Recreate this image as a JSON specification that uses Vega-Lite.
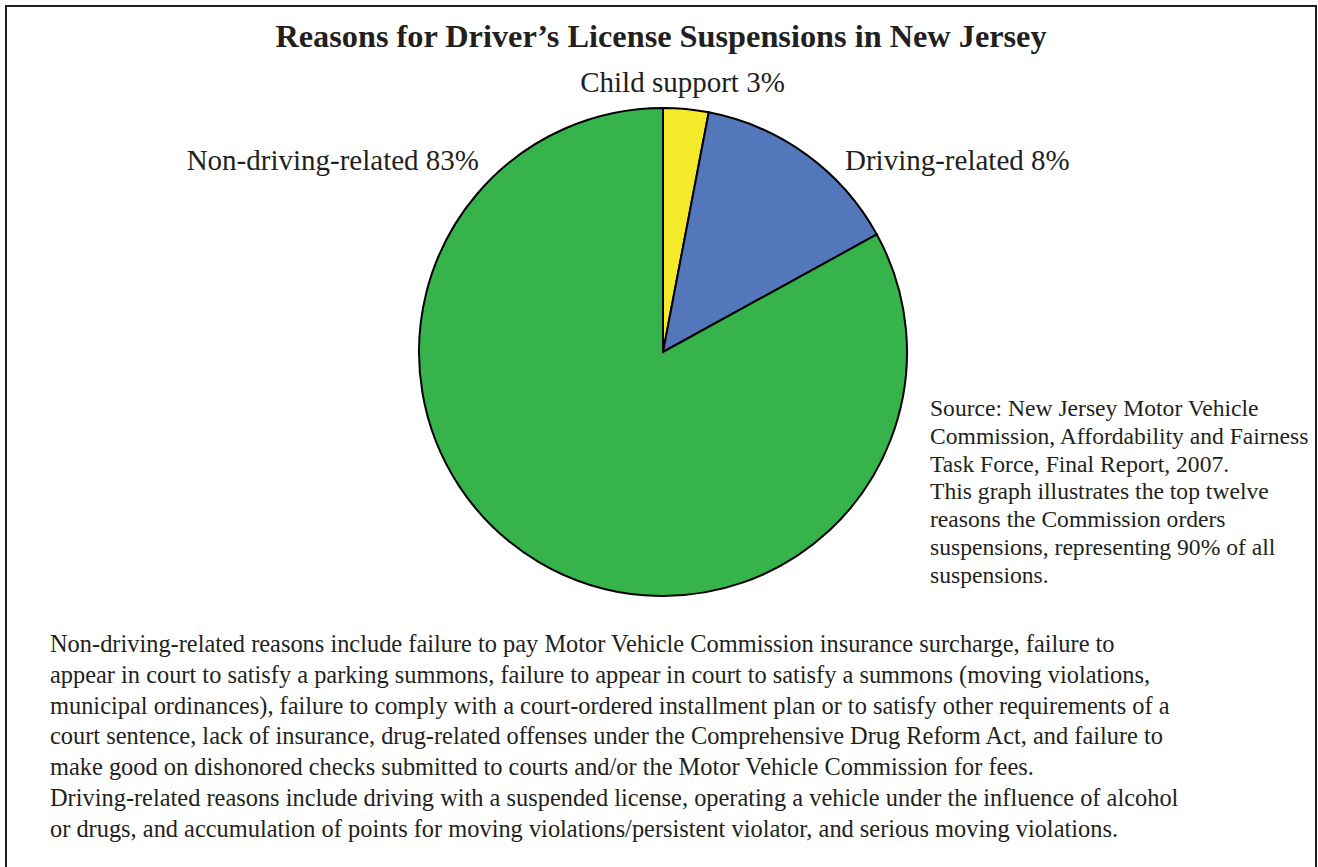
{
  "$schema": "https://vega.github.io/schema/vega-lite/v6.json",
  "autosize": {"type": "none"},
  "padding": {"left": 6, "top": 6, "right": 2, "bottom": -10},
  "width": 1310,
  "height": 871,
  "background": "white",
  "view": {"stroke": "#231f20", "strokeWidth": 2},
  "title": {
    "text": "Reasons for Driver’s License Suspensions in New Jersey",
    "font": "Liberation Serif",
    "fontSize": 32.3,
    "fontWeight": "bold",
    "color": "#231f20",
    "anchor": "middle",
    "frame": "group",
    "offset": -48
  },
  "config": {
    "view": {"stroke": "#231f20", "strokeWidth": 2},
    "font": "Liberation Serif"
  },
  "data": {
    "values": [
      {"category": "Child support", "share": 3, "label": "Child support 3%"},
      {"category": "Driving-related", "share": 14, "label": "Driving-related 8%"},
      {"category": "Non-driving-related", "share": 83, "label": "Non-driving-related 83%"}
    ]
  },
  "layer": [
    {
      "data": {"values": [{"frame": "border"}]},
      "mark": {"type": "rect", "filled": false, "fill": null, "stroke": "#231f20", "strokeWidth": 2},
      "encoding": {}
    },
    {
      "mark": {"type": "arc", "outerRadius": 244, "stroke": "#000000", "strokeWidth": 2, "xOffset": 2, "yOffset": -89.5},
      "encoding": {
        "theta": {"field": "share", "type": "quantitative", "stack": true},
        "order": {"field": "share", "type": "quantitative", "sort": "ascending"},
        "color": {
          "field": "category",
          "type": "nominal",
          "scale": {"domain": ["Child support", "Driving-related", "Non-driving-related"], "range": ["#F4EA2A", "#5477BC", "#36B34A"]},
          "legend": null
        }
      }
    },
    {
      "transform": [{"filter": "datum.category === 'Child support'"}],
      "mark": {"type": "text", "font": "Liberation Serif", "fontSize": 29, "color": "#231f20", "align": "center", "baseline": "alphabetic", "xOffset": 21.5, "yOffset": -350},
      "encoding": {"text": {"field": "label", "type": "nominal"}}
    },
    {
      "transform": [{"filter": "datum.category === 'Driving-related'"}],
      "mark": {"type": "text", "font": "Liberation Serif", "fontSize": 29, "color": "#231f20", "align": "left", "baseline": "alphabetic", "xOffset": 184, "yOffset": -271.5},
      "encoding": {"text": {"field": "label", "type": "nominal"}}
    },
    {
      "transform": [{"filter": "datum.category === 'Non-driving-related'"}],
      "mark": {"type": "text", "font": "Liberation Serif", "fontSize": 29, "color": "#231f20", "align": "right", "baseline": "alphabetic", "xOffset": -182, "yOffset": -271.5},
      "encoding": {"text": {"field": "label", "type": "nominal"}}
    },
    {
      "data": {"values": [{"note": "Source: New Jersey Motor Vehicle\nCommission, Affordability and Fairness\nTask Force, Final Report, 2007.\nThis graph illustrates the top twelve\nreasons the Commission orders\nsuspensions, representing 90% of all\nsuspensions."}]},
      "mark": {"type": "text", "font": "Liberation Serif", "fontSize": 23.6, "lineHeight": 27.8, "lineBreak": "\n", "color": "#231f20", "align": "left", "baseline": "alphabetic", "xOffset": 269, "yOffset": -25.5},
      "encoding": {"text": {"field": "note", "type": "nominal"}}
    },
    {
      "data": {"values": [{"note": "Non-driving-related reasons include failure to pay Motor Vehicle Commission insurance surcharge, failure to\nappear in court to satisfy a parking summons, failure to appear in court to satisfy a summons (moving violations,\nmunicipal ordinances), failure to comply with a court-ordered installment plan or to satisfy other requirements of a\ncourt sentence, lack of insurance, drug-related offenses under the Comprehensive Drug Reform Act, and failure to\nmake good on dishonored checks submitted to courts and/or the Motor Vehicle Commission for fees.\nDriving-related reasons include driving with a suspended license, operating a vehicle under the influence of alcohol\nor drugs, and accumulation of points for moving violations/persistent violator, and serious moving violations."}]},
      "mark": {"type": "text", "font": "Liberation Serif", "fontSize": 24.4, "lineHeight": 30.8, "lineBreak": "\n", "color": "#231f20", "align": "left", "baseline": "alphabetic", "xOffset": -611, "yOffset": 210.5},
      "encoding": {"text": {"field": "note", "type": "nominal"}}
    }
  ]
}
